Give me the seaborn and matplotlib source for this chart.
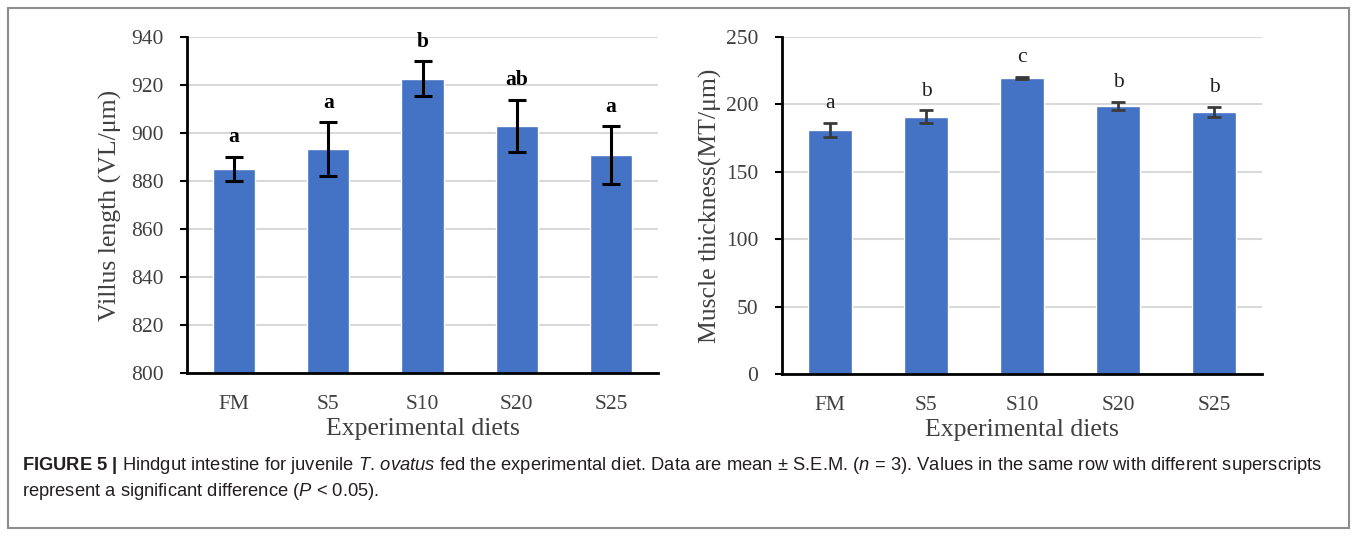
import numpy as np
import pandas as pd
import matplotlib.pyplot as plt
import seaborn as sns

# data
diets = ['FM', 'S5', 'S10', 'S20', 'S25']
villus_mean = [885.0, 893.2, 922.7, 902.9, 890.8]
villus_sem = [5.0, 11.2, 7.2, 11.0, 12.0]
villus_letters = ['a', 'a', 'b', 'ab', 'a']
muscle_mean = [181.0, 190.8, 219.6, 198.9, 194.6]
muscle_sem = [5.4, 4.8, 0.8, 3.2, 3.6]
muscle_letters = ['a', 'b', 'c', 'b', 'b']

sns.set_theme(style='white')
plt.rcParams['font.family'] = ['Liberation Serif', 'DejaVu Serif']
plt.rcParams['mathtext.fontset'] = 'custom'
plt.rcParams['mathtext.rm'] = 'Liberation Sans'
plt.rcParams['mathtext.it'] = 'Liberation Sans:italic'
plt.rcParams['mathtext.bf'] = 'Liberation Sans:bold'

bar_color = '#4472c4'
grid_color = '#d9d9d9'
text_grey = '#404040'

fig = plt.figure(figsize=(13.57, 5.36), dpi=100)
ax1 = fig.add_axes([187 / 1357, 1 - 373 / 536, 471 / 1357, 336 / 536])
ax2 = fig.add_axes([782 / 1357, 1 - 374 / 536, 480 / 1357, 337 / 536])

df1 = pd.DataFrame({'diet': diets, 'value': villus_mean})
df2 = pd.DataFrame({'diet': diets, 'value': muscle_mean})

panels = [
    (ax1, df1, villus_sem, villus_letters, (800, 940), np.arange(800, 941, 20),
     'Villus length (VL/μm)', 'black', 'bold', 2.2, 6.5, 6),
    (ax2, df2, muscle_sem, muscle_letters, (0, 250), np.arange(0, 251, 50),
     'Muscle thickness(MT/μm)', '#3a3a3a', 'normal', 2.0, 5.0, 3),
]

for ax, df, sem, letters, ylim, yticks, ylab, ecol, fw, elw, cap, ypad in panels:
    sns.barplot(data=df, x='diet', y='value', color=bar_color, width=0.45,
                saturation=1, ax=ax, zorder=3)
    ax.set_ylim(*ylim)
    ax.set_xlim(-0.5, 4.5)
    ax.set_yticks(yticks)
    ax.yaxis.grid(True, color=grid_color, linewidth=1.5, zorder=0)
    ax.set_axisbelow(True)
    for s in ['top', 'right']:
        ax.spines[s].set_visible(False)
    for s in ['left', 'bottom']:
        ax.spines[s].set_color('black')
        ax.spines[s].set_linewidth(2)
        ax.spines[s].set_zorder(4)
    ax.tick_params(axis='y', length=5, width=1.5, color='black', direction='out',
                   left=True, labelsize=15.5, labelcolor=text_grey, pad=12)
    ax.tick_params(axis='x', length=0, labelsize=15.5, labelcolor=text_grey, pad=16)
    ax.set_xlabel('Experimental diets', fontsize=18.5, color=text_grey, labelpad=3)
    ax.set_ylabel(ylab, fontsize=18.5, color=text_grey, labelpad=ypad)

    xs = [p.get_x() + p.get_width() / 2 for p in ax.patches]
    hs = [p.get_height() for p in ax.patches]
    ax.errorbar(xs, hs, yerr=sem, fmt='none', ecolor=ecol, elinewidth=elw,
                capsize=cap, capthick=elw, zorder=5)
    for x, h, e, lab in zip(xs, hs, sem, letters):
        ax.annotate(lab, (x, h + e), xytext=(0, 7), textcoords='offset points',
                    ha='center', va='bottom', fontsize=15.5, fontweight=fw,
                    color='black' if fw == 'bold' else '#202020')

# outer frame
fig.patches.append(plt.Rectangle((8 / 1357, 8 / 536), 1341 / 1357, 520 / 536,
                                 transform=fig.transFigure, fill=False,
                                 edgecolor='#8c8c8c', linewidth=1.5))

cap1 = (r'$\mathbf{FIGURE\ 5\ |}$ Hindgut intestine for juvenile $\mathit{T.\,ovatus}$ fed the '
        r'experimental diet. Data are mean ± S.E.M. ($\mathit{n}$ = $\mathit{3}$). Values in the same row '
        r'with different superscripts')
cap2 = r'represent a significant difference ($\mathit{P}$ < 0.05).'
fig.text(22 / 1357, 1 - 466 / 536, cap1, fontsize=13.2, color='#231f20',
         family=['Liberation Sans', 'DejaVu Sans'], va='center', ha='left')
fig.text(22 / 1357, 1 - 491 / 536, cap2, fontsize=13.2, color='#231f20',
         family=['Liberation Sans', 'DejaVu Sans'], va='center', ha='left')

fig.savefig('out.png', dpi=100)
